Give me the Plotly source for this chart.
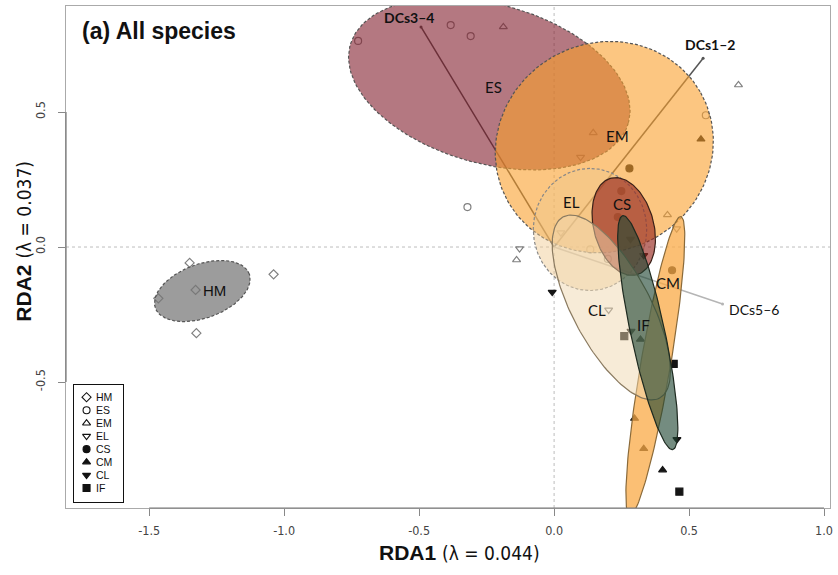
import numpy as np
import plotly.graph_objects as go

# ---------------- data ----------------
groups = ["HM", "ES", "EM", "EL", "CS", "CM", "CL", "IF"]
symbols = ["diamond-open", "circle-open", "triangle-up-open", "triangle-down-open",
           "circle", "triangle-up", "triangle-down", "square"]

hm_x = [-1.350, -1.466, -1.328, -1.039, -1.325]
hm_y = [-0.059, -0.190, -0.159, -0.101, -0.319]
es_x = [-0.726, -0.383, -0.309, -0.321, 0.562, 0.134, 0.199]
es_y = [0.763, 0.822, 0.781, 0.148, 0.488, -0.009, -0.044]
em_x = [-0.188, 0.683, 0.145, 0.420, -0.139]
em_y = [0.815, 0.600, 0.423, 0.119, -0.048]
el_x = [0.098, 0.454, -0.128, 0.202, 0.025]
el_y = [0.333, 0.068, -0.006, -0.233, 0.053]
cs_x = [0.279, 0.249, 0.236, 0.437]
cs_y = [0.291, 0.207, 0.111, -0.086]
cm_x = [0.544, 0.320, 0.298, 0.332, 0.402]
cm_y = [0.399, -0.342, -0.635, -0.747, -0.826]
cl_x = [-0.007, 0.283, 0.332, 0.285, 0.455]
cl_y = [-0.167, 0.029, -0.031, -0.311, -0.712]
if_x = [0.260, 0.443, 0.464]
if_y = [-0.330, -0.433, -0.906]

pts_x = [hm_x, es_x, em_x, el_x, cs_x, cm_x, cl_x, if_x]
pts_y = [hm_y, es_y, em_y, el_y, cs_y, cm_y, cl_y, if_y]

# ellipse parameters: centre, semi-axes, rotation (deg)
ell_cx = [-1.303, -0.240, 0.186, 0.133, 0.258, 0.375, 0.212, 0.347]
ell_cy = [-0.163, 0.604, 0.370, 0.065, 0.076, -0.441, -0.224, -0.317]
ell_a = [0.185, 0.535, 0.410, 0.226, 0.185, 0.562, 0.380, 0.443]
ell_b = [0.100, 0.295, 0.385, 0.210, 0.111, 0.055, 0.144, 0.063]
ell_ang = [20, -15.6, 30, 90, -75, 80.3, -62, -77.9]

# group label positions
lab_x = [-1.258, -0.223, 0.236, 0.066, 0.252, 0.421, 0.159, 0.331]
lab_y = [-0.160, 0.594, 0.411, 0.167, 0.160, -0.134, -0.235, -0.290]

# environmental vectors
vec_names = ["DCs1–2", "DCs3–4", "DCs5–6"]
vec_x = [0.552, -0.493, 0.624]
vec_y = [0.699, 0.815, -0.211]

x_ticks = [-1.5, -1.0, -0.5, 0.0, 0.5, 1.0]
y_ticks = [-0.5, 0.0, 0.5]

# ---------------- styles ----------------
fills = ["rgba(118,118,118,0.72)", "rgba(130,30,45,0.60)", "rgba(250,160,45,0.60)",
         "rgba(240,200,140,0.45)", "rgba(150,40,30,0.65)", "rgba(250,170,70,0.75)",
         "rgba(240,215,175,0.50)", "rgba(30,70,50,0.62)"]
borders = ["#555555", "#555555", "#555555", "#888888", "#3a2018", "#8a6a3a", "#8a7a60", "#1e2a20"]
dashes = ["3px,2px", "3px,2px", "3px,2px", "3px,2px", "solid", "solid", "solid", "solid"]
vec_colors = ["#555555", "#4a4a4a", "#b5b5b5"]
vec_shift = [(7, 14, "center"), (-12, 9, "center"), (4, -5, "left")]

LABEL_FONT = "Lato, Open Sans, sans-serif"
ARIAL = "Liberation Sans, Arial, sans-serif"
NARROW = "Liberation Sans Narrow, Arial Narrow, DejaVu Sans Condensed, Liberation Sans, sans-serif"

fig = go.Figure()

# vectors (below ellipses)
for name, vx, vy, c in zip(vec_names, vec_x, vec_y, vec_colors):
    fig.add_trace(go.Scatter(x=[0, vx], y=[0, vy], mode="lines",
                             line=dict(color=c, width=1.5), hoverinfo="skip", showlegend=False))
    fig.add_trace(go.Scatter(x=[vx], y=[vy], mode="markers",
                             marker=dict(color=c, size=3), hoverinfo="skip", showlegend=False))

# points
for g, sym, px, py in zip(groups, symbols, pts_x, pts_y):
    is_open = sym.endswith("open")
    fig.add_trace(go.Scatter(
        x=px, y=py, mode="markers", name=g, showlegend=False,
        marker=dict(symbol=sym, size=7, color="#808080" if is_open else "#151515",
                    line=dict(width=1.2, color="#808080" if is_open else "#151515"))))

# ellipses
t = np.linspace(0, 2 * np.pi, 160)
for i, g in enumerate(groups):
    th = np.radians(ell_ang[i])
    ex = ell_cx[i] + ell_a[i] * np.cos(t) * np.cos(th) - ell_b[i] * np.sin(t) * np.sin(th)
    ey = ell_cy[i] + ell_a[i] * np.cos(t) * np.sin(th) + ell_b[i] * np.sin(t) * np.cos(th)
    fig.add_trace(go.Scatter(
        x=ex, y=ey, mode="lines", fill="toself", fillcolor=fills[i],
        line=dict(color=borders[i], width=1.2, dash=dashes[i]),
        hoverinfo="skip", showlegend=False))

# group labels
for g, lx, ly in zip(groups, lab_x, lab_y):
    fig.add_annotation(x=lx, y=ly, text=g, showarrow=False,
                       font=dict(family=LABEL_FONT if g != "HM" else ARIAL, size=15, color="#111"))

# vector labels
for name, vx, vy, (dx, dy, anc) in zip(vec_names, vec_x, vec_y, vec_shift):
    bold = name != "DCs5–6"
    fig.add_annotation(x=vx, y=vy, text=f"<b>{name}</b>" if bold else name, showarrow=False,
                       xshift=dx, yshift=dy, xanchor=anc,
                       font=dict(family=LABEL_FONT, size=14, color="#111"))

# legend box (own small axes)
fig.add_trace(go.Scatter(
    x=[0.25] * len(groups), y=list(range(len(groups))), mode="markers",
    marker=dict(symbol=symbols, size=7, color="#111", line=dict(width=1.1, color="#111")),
    xaxis="x2", yaxis="y2", showlegend=False, hoverinfo="skip"))
for i, g in enumerate(groups):
    fig.add_annotation(xref="x2", yref="y2", x=0.40, y=i, text=g, showarrow=False,
                       xanchor="left", yanchor="middle",
                       font=dict(family=ARIAL, size=10.5, color="#111"))

# zero lines
fig.add_shape(type="line", xref="x", yref="paper", x0=0, x1=0, y0=0, y1=1,
              line=dict(color="#bdbdbd", width=1, dash="dot"), layer="below")
fig.add_shape(type="line", xref="paper", yref="y", x0=0, x1=1, y0=0, y1=0,
              line=dict(color="#bdbdbd", width=1, dash="dot"), layer="below")
# R-style axis segments
fig.add_shape(type="line", xref="x", yref="paper", x0=x_ticks[0], x1=x_ticks[-1], y0=0, y1=0,
              line=dict(color="#777", width=1.2))
fig.add_shape(type="line", xref="paper", yref="y", x0=0, x1=0, y0=y_ticks[0], y1=y_ticks[-1],
              line=dict(color="#777", width=1.2))

# title and axis titles
fig.add_annotation(xref="paper", yref="paper", x=0.018, y=0.950, xanchor="left", yanchor="middle",
                   text="<b>(a) All species</b>", showarrow=False,
                   font=dict(family=ARIAL, size=23, color="#111"))
fig.add_annotation(xref="paper", yref="paper", x=0.515, y=-0.0895, xanchor="center", yanchor="middle",
                   text="<b>RDA1</b> <span style='font-family:" + NARROW + ";font-size:19px'>(λ = 0.044)</span>",
                   showarrow=False, font=dict(family=ARIAL, size=21, color="#111"))
fig.add_annotation(xref="paper", yref="paper", x=-0.056, y=0.531, xanchor="center", yanchor="middle",
                   text="<b>RDA2</b> <span style='font-family:" + NARROW + ";font-size:19px'>(λ = 0.037)</span>",
                   showarrow=False, textangle=-90, font=dict(family=ARIAL, size=21, color="#111"))

fmt = lambda v: f"{v:.1f}".replace("−", "-")
fig.update_layout(
    width=838, height=575,
    margin=dict(l=66, r=5, t=5, b=67),
    paper_bgcolor="white", plot_bgcolor="white",
    showlegend=False,
    xaxis=dict(range=[-1.808, 1.022], tickvals=x_ticks, ticktext=[fmt(v) for v in x_ticks],
               showgrid=False, zeroline=False, showline=True, mirror=True,
               linecolor="#aaaaaa", linewidth=1, ticks="outside", ticklen=7, tickcolor="#888",
               tickfont=dict(family=NARROW, size=12.5, color="#444"), ticklabelstandoff=4),
    yaxis=dict(range=[-0.9664, 0.8925], tickvals=y_ticks, ticktext=[fmt(v) for v in y_ticks],
               showgrid=False, zeroline=False, showline=True, mirror=True,
               linecolor="#aaaaaa", linewidth=1, ticks="outside", ticklen=7, tickcolor="#888",
               tickangle=-90, tickfont=dict(family=NARROW, size=12.5, color="#444"),
               ticklabelstandoff=8),
    xaxis2=dict(domain=[0.0111, 0.0743], range=[0, 1], anchor="y2", showgrid=False, zeroline=False,
                showticklabels=False, ticks="", showline=True, mirror=True, linecolor="#111", linewidth=1),
    yaxis2=dict(domain=[0.0119, 0.2445], range=[8.077, -0.923], anchor="x2", showgrid=False,
                zeroline=False, showticklabels=False, ticks="", showline=True, mirror=True,
                linecolor="#111", linewidth=1),
)

fig.write_html("out.html")
